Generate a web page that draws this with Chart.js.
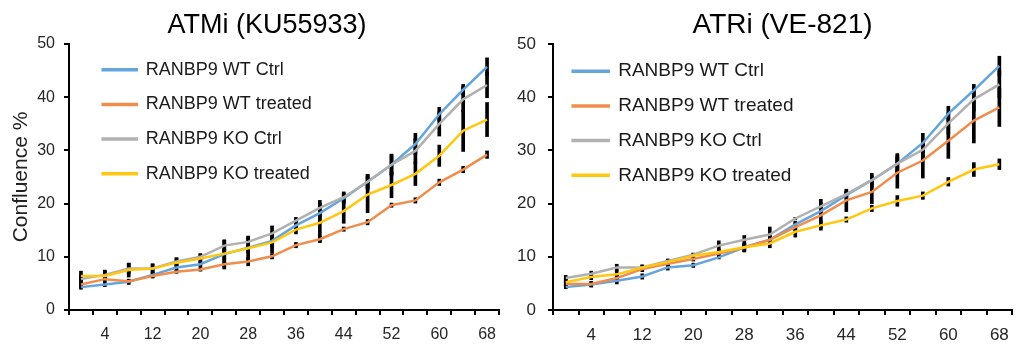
<!DOCTYPE html>
<html>
<head>
<meta charset="utf-8">
<script src="https://cdn.jsdelivr.net/npm/chart.js@4.4.1/dist/chart.umd.min.js"></script>
<style>
    body { margin: 0; background: #fff; }
    #wrap { position: relative; width: 1019px; height: 345px; overflow: hidden; }
    canvas { position: absolute; top: 0; }
</style>
</head>
<body>
<div id="wrap">
    <canvas id="graph_atm" style="left:0px"></canvas>
    <canvas id="graph_atr" style="left:500px"></canvas>
</div>
<script>
// hours after treatment
var times = ['0', '4', '8', '12', '16', '20', '24', '28', '32', '36', '40', '44', '48', '52', '56', '60', '64', '68'];

var seriesNames = ['RANBP9 WT Ctrl', 'RANBP9 WT treated', 'RANBP9 KO Ctrl', 'RANBP9 KO treated'];
var seriesColors = ['#65A5DC', '#F08C4C', '#B0B0B0', '#FFC710'];

// ATMi (KU55933) panel
var atmWtCtrl    = [4.3, 4.8, 5.3, 6.6, 8.0, 8.6, 10.5, 11.7, 13.0, 15.9, 18.2, 21.0, 24.1, 27.3, 31.2, 36.8, 41.4, 45.7];
var atmWtTreated = [4.8, 5.8, 5.4, 6.4, 7.2, 7.6, 8.6, 9.1, 10.1, 12.2, 13.3, 15.2, 16.5, 19.7, 20.6, 24.0, 26.4, 29.2];
var atmKoCtrl    = [5.8, 6.6, 7.8, 7.8, 9.1, 10.0, 12.1, 12.8, 14.4, 16.8, 19.2, 21.2, 24.1, 27.3, 29.9, 35.0, 39.6, 42.3];
var atmKoTreated = [6.4, 6.4, 7.5, 7.8, 8.9, 9.7, 10.6, 11.6, 12.7, 15.1, 16.4, 18.6, 21.7, 23.5, 25.6, 29.0, 33.7, 35.8];

var atmWtCtrlErr    = [0.4, 0.4, 0.5, 0.5, 0.6, 0.6, 0.9, 1.0, 1.2, 1.0, 1.3, 1.0, 1.4, 2.0, 2.0, 1.3, 1.0, 1.7];
var atmWtTreatedErr = [0.5, 0.5, 0.3, 0.4, 0.3, 0.3, 0.9, 0.8, 0.5, 0.5, 0.6, 0.4, 0.5, 0.4, 0.5, 0.6, 0.6, 0.7];
var atmKoCtrlErr    = [0.8, 0.9, 1.0, 0.8, 0.7, 0.6, 1.0, 1.0, 1.4, 0.6, 1.4, 1.0, 1.4, 1.9, 2.3, 2.3, 2.4, 2.4];
var atmKoTreatedErr = [0.9, 0.9, 1.3, 0.9, 0.9, 0.8, 2.6, 2.3, 2.0, 0.8, 3.7, 2.3, 3.4, 2.4, 2.2, 2.0, 3.9, 3.2];

// ATRi (VE-821) panel
var atrWtCtrl    = [4.3, 4.8, 5.5, 6.3, 8.0, 8.4, 9.9, 11.8, 13.2, 16.1, 18.6, 21.6, 24.4, 27.5, 31.4, 36.9, 41.3, 45.9];
var atrWtTreated = [4.9, 4.9, 6.0, 7.7, 8.7, 9.6, 10.6, 11.7, 13.2, 15.6, 17.8, 20.6, 22.2, 25.8, 28.1, 31.8, 35.6, 38.1];
var atrKoCtrl    = [6.0, 6.8, 8.0, 8.0, 9.2, 10.4, 12.1, 13.2, 14.2, 17.2, 19.5, 21.8, 24.4, 27.5, 30.1, 35.1, 39.6, 42.4];
var atrKoTreated = [5.2, 6.2, 6.7, 8.0, 9.0, 10.2, 10.9, 11.8, 12.5, 14.7, 15.9, 17.0, 19.1, 20.5, 21.5, 24.1, 26.4, 27.4];

var atrWtCtrlErr    = [0.3, 0.5, 0.6, 0.5, 0.5, 0.4, 0.3, 0.6, 0.8, 0.6, 0.8, 0.6, 0.8, 1.9, 1.8, 1.4, 1.1, 1.8];
var atrWtTreatedErr = [0.4, 0.5, 0.6, 0.5, 0.4, 0.4, 0.6, 0.8, 0.6, 0.8, 2.4, 2.1, 2.2, 2.9, 3.3, 3.3, 4.2, 3.6];
var atrKoCtrlErr    = [0.5, 0.5, 0.6, 0.5, 0.4, 0.3, 0.9, 0.8, 1.4, 0.2, 1.3, 0.6, 1.3, 1.6, 2.0, 2.0, 2.2, 2.5];
var atrKoTreatedErr = [0.6, 0.5, 0.7, 0.4, 0.5, 0.4, 0.6, 0.8, 0.8, 1.0, 0.9, 0.5, 0.6, 1.0, 0.7, 0.8, 1.3, 1.0];

var fontFamily = "'Liberation Sans', Arial, sans-serif";

function errorBars(mean, err)
{
    var out = [];
    for (var i = 0; i < mean.length; i++) {
        out.push([mean[i] - err[i], mean[i] + err[i]]);
    }
    return out;
}

function buildDatasets(means, errs)
{
    var sets = [];
    // lines first so legend index 0-3 are the series; later series drawn on top (like Excel)
    for (var i = 0; i < means.length; i++) {
        sets.push({
            type: 'line',
            label: seriesNames[i],
            data: means[i],
            borderColor: seriesColors[i],
            backgroundColor: seriesColors[i],
            borderWidth: 2.5,
            pointRadius: 0,
            tension: 0,
            fill: false,
            order: 4 - i
        });
    }
    for (var j = 0; j < means.length; j++) {
        sets.push({
            type: 'bar',
            label: 'err',
            data: errorBars(means[j], errs[j]),
            backgroundColor: '#000',
            borderWidth: 0,
            barThickness: 3,
            grouped: false,
            order: 10
        });
    }
    return sets;
}

// moves the in-plot legend to where the original sits
var legendNudge = {
    id: 'legendNudge',
    afterLayout: function(chart, args, opts) {
        var lg = chart.legend;
        if (!lg) return;
        lg.left += opts.dx; lg.right += opts.dx;
        lg.top += opts.dy; lg.bottom += opts.dy;
    }
};

function makeOptions(cfg)
{
    return {
        responsive: false,
        animation: false,
        layout: { padding: { left: 0, right: cfg.padRight, top: 0, bottom: 0 } },
        plugins: {
            title: {
                display: true,
                text: cfg.title,
                color: '#000',
                fullSize: cfg.titleFull,
                font: { family: fontFamily, size: cfg.titleSize, weight: 'normal' },
                padding: { top: cfg.titleTop, bottom: 44 - cfg.titleTop - cfg.titleSize * 1.2 }
            },
            legend: {
                position: 'chartArea',
                align: 'start',
                labels: {
                    color: '#1a1a1a',
                    font: { family: fontFamily, size: cfg.legendSize },
                    boxWidth: cfg.legendBox,
                    boxHeight: 1,
                    padding: 34.7 - cfg.legendSize,
                    filter: function(item) { return item.datasetIndex < 4; },
                    sort: function(a, b) { return a.datasetIndex - b.datasetIndex; }
                }
            },
            tooltip: { enabled: false },
            legendNudge: { dx: cfg.legendDx, dy: cfg.legendDy }
        },
        scales: {
            x: {
                type: 'category',
                offset: true,
                afterFit: function(scale) { scale.height = 35; },
                grid: { offset: true, drawOnChartArea: false, drawTicks: true, tickLength: 5, color: '#000', lineWidth: 2 },
                border: { display: true, color: '#000', width: 2 },
                ticks: {
                    autoSkip: false,
                    maxRotation: 0,
                    padding: 10,
                    color: '#262626',
                    font: { family: fontFamily, size: cfg.tickSize },
                    callback: function(val, index) {
                        return index % 2 === 1 ? this.getLabelForValue(val) : '';
                    }
                }
            },
            y: {
                min: 0,
                max: 50,
                afterFit: function(scale) { scale.width = cfg.yWidth; },
                grid: { drawOnChartArea: false, drawTicks: true, tickLength: 5, color: '#000', lineWidth: 2 },
                border: { display: true, color: '#000', width: 2 },
                ticks: {
                    stepSize: 10,
                    padding: cfg.yPad,
                    color: '#262626',
                    font: { family: fontFamily, size: cfg.tickSize }
                },
                title: {
                    display: cfg.yTitle !== '',
                    text: cfg.yTitle,
                    color: '#222',
                    font: { family: fontFamily, size: 21 },
                    padding: { top: 9, bottom: 0 }
                }
            },
            // empty spacer on the right so the full-width title centres like the original
            spacer: {
                type: 'linear',
                position: 'right',
                display: cfg.spacer > 0,
                afterFit: function(scale) { scale.width = cfg.spacer; },
                grid: { display: false },
                border: { display: false },
                ticks: { display: false }
            }
        }
    };
}

var ctx_atm = document.getElementById('graph_atm').getContext('2d');
ctx_atm.canvas.width = 534;
ctx_atm.canvas.height = 345;

var chart_atm = new Chart(ctx_atm, {
    type: 'line',
    data: {
        labels: times,
        datasets: buildDatasets(
            [atmWtCtrl, atmWtTreated, atmKoCtrl, atmKoTreated],
            [atmWtCtrlErr, atmWtTreatedErr, atmKoCtrlErr, atmKoTreatedErr])
    },
    options: makeOptions({
        title: 'ATMi (KU55933)', titleFull: true, titleSize: 27, titleTop: 9,
        padRight: 0, spacer: 35, yWidth: 69, yPad: 9, yTitle: 'Confluence %',
        tickSize: 16, legendSize: 18, legendBox: 34, legendDx: 17, legendDy: 44
    }),
    plugins: [legendNudge]
});

var ctx_atr = document.getElementById('graph_atr').getContext('2d');
ctx_atr.canvas.width = 519;
ctx_atr.canvas.height = 345;

var chart_atr = new Chart(ctx_atr, {
    type: 'line',
    data: {
        labels: times,
        datasets: buildDatasets(
            [atrWtCtrl, atrWtTreated, atrKoCtrl, atrKoTreated],
            [atrWtCtrlErr, atrWtTreatedErr, atrKoCtrlErr, atrKoTreatedErr])
    },
    options: makeOptions({
        title: 'ATRi (VE-821)', titleFull: false, titleSize: 28, titleTop: 8,
        padRight: 1, spacer: 0, yWidth: 53, yPad: 12, yTitle: '',
        tickSize: 17, legendSize: 19, legendBox: 36, legendDx: 4, legendDy: 46
    }),
    plugins: [legendNudge]
});
</script>
</body>
</html>
